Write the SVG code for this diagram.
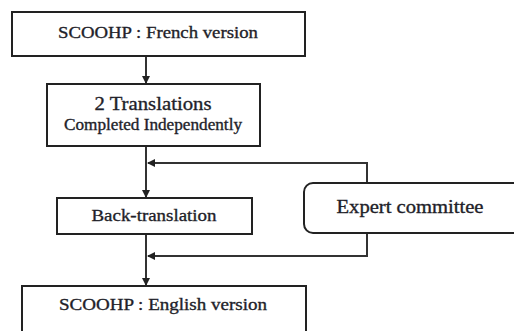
<svg xmlns="http://www.w3.org/2000/svg" width="514" height="331" viewBox="0 0 514 331">
<style>
.box{fill:#fff;stroke:#222;stroke-width:2}
.t{font-family:"Liberation Serif","Times New Roman",serif;fill:#1f1f2a;stroke:#1f1f2a;stroke-width:0.35;text-anchor:middle}
.c{fill:none;stroke:#333;stroke-width:2}
</style>
<defs>
<marker id="ah" markerWidth="8" markerHeight="8" refX="7" refY="4" orient="auto" markerUnits="userSpaceOnUse">
<path d="M0,0 L8,4 L0,8 Z" fill="#222"/>
</marker>
</defs>
<g id="connectors">
<line class="c" x1="146" y1="56" x2="146" y2="83" marker-end="url(#ah)"/>
<line class="c" x1="146" y1="146" x2="146" y2="197" marker-end="url(#ah)"/>
<line class="c" x1="146" y1="234" x2="146" y2="285" marker-end="url(#ah)"/>
<polyline class="c" points="367,183 367,163 148,163" marker-end="url(#ah)"/>
<polyline class="c" points="367,233 367,256 148,256" marker-end="url(#ah)"/>
</g>
<g id="french">
<rect class="box" x="12" y="12" width="293" height="44"/>
<text class="t" x="158" y="38" font-size="17" textLength="200" lengthAdjust="spacingAndGlyphs">SCOOHP : French version</text>
</g>
<g id="translations">
<rect class="box" x="47" y="84" width="213" height="62"/>
<text class="t" x="153" y="110" font-size="19" textLength="117" lengthAdjust="spacingAndGlyphs">2 Translations</text>
<text class="t" x="153" y="130" font-size="16" textLength="178" lengthAdjust="spacingAndGlyphs">Completed Independently</text>
</g>
<g id="back">
<rect class="box" x="57" y="198" width="195" height="36"/>
<text class="t" x="154" y="221" font-size="17" textLength="125" lengthAdjust="spacingAndGlyphs">Back-translation</text>
</g>
<g id="expert">
<rect class="box" x="304" y="183" width="230" height="50" rx="9"/>
<text class="t" x="410" y="213" font-size="18" textLength="147" lengthAdjust="spacingAndGlyphs">Expert committee</text>
</g>
<g id="english">
<rect class="box" x="22" y="286" width="284" height="60"/>
<text class="t" x="163" y="310" font-size="17" textLength="208" lengthAdjust="spacingAndGlyphs">SCOOHP : English version</text>
</g>
</svg>
